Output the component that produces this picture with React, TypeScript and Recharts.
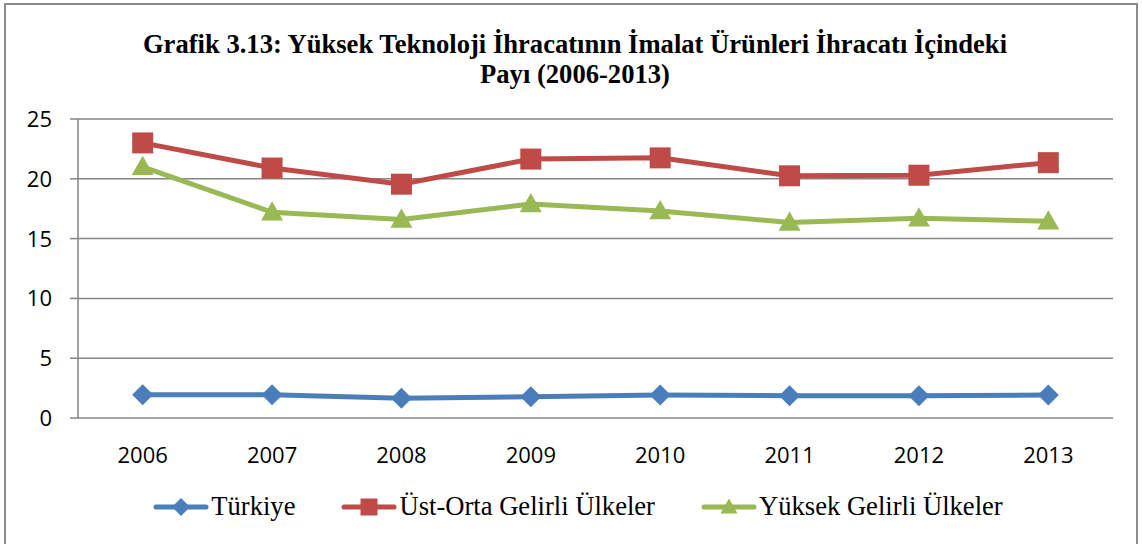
import React from 'react';
import { LineChart, Line, XAxis, YAxis, CartesianGrid } from 'recharts';

const years = ['2006', '2007', '2008', '2009', '2010', '2011', '2012', '2013'];
const turkiye = [1.95, 1.95, 1.65, 1.78, 1.92, 1.87, 1.87, 1.92];
const ustOrta = [23.0, 20.9, 19.55, 21.65, 21.75, 20.25, 20.3, 21.35];
const yuksek = [21.0, 17.2, 16.6, 17.9, 17.3, 16.35, 16.7, 16.45];
const yTicks = [0, 5, 10, 15, 20, 25];

const BLUE = '#4a7ebb';
const RED = '#be4b48';
const GREEN = '#98b954';
const GRID = '#868686';

const data = years.map((y, i) => ({
  idx: i,
  year: y,
  turkiye: turkiye[i],
  ustOrta: ustOrta[i],
  yuksek: yuksek[i],
}));

// tick marks sit between categories, labels under their centres
const bounds = years.map((_, i) => i - 0.5).concat([years.length - 0.5]);
const centers = years.map((_, i) => i);

const Diamond = ({ cx, cy, r = 10.5, color }: any) => (
  <path d={`M${cx},${cy - r} L${cx + r},${cy} L${cx},${cy + r} L${cx - r},${cy} Z`} fill={color} />
);
const Square = ({ cx, cy, s = 10.5, color }: any) => (
  <rect x={cx - s} y={cy - s} width={2 * s} height={2 * s} fill={color} />
);
const Triangle = ({ cx, cy, s = 11, color }: any) => (
  <path d={`M${cx},${cy - s} L${cx + s},${cy + s * 0.75} L${cx - s},${cy + s * 0.75} Z`} fill={color} />
);

const tickFont = "'Open Sans', sans-serif";

const YTick = ({ x, y, payload }: any) => (
  <text x={x} y={y} dy={8} textAnchor="end" fontFamily={tickFont} fontSize={22} fill="#000">
    {payload.value}
  </text>
);

const XTick = ({ x, y, payload }: any) => (
  <text x={x} y={y} dy={43} textAnchor="middle" fontFamily={tickFont} fontSize={22} fill="#000">
    {years[payload.value]}
  </text>
);

const legendItems = [
  { name: 'Türkiye', color: BLUE, Mark: Diamond },
  { name: 'Üst-Orta Gelirli Ülkeler', color: RED, Mark: Square },
  { name: 'Yüksek Gelirli Ülkeler', color: GREEN, Mark: Triangle },
];

const serif = "'Liberation Serif', 'Times New Roman', serif";

export default function App() {
  return (
    <div
      style={{
        position: 'absolute',
        left: 4,
        top: 3,
        width: 1134,
        height: 545,
        border: '2px solid #8c8c8c',
        boxSizing: 'border-box',
        background: '#fff',
      }}
    >
      <div
        style={{
          position: 'absolute',
          left: 4,
          width: 1130,
          top: 25,
          textAlign: 'center',
          fontFamily: serif,
          fontWeight: 'bold',
          fontSize: 26.6,
          lineHeight: '29.5px',
        }}
      >
        Grafik 3.13: Yüksek Teknoloji İhracatının İmalat Ürünleri İhracatı İçindeki
        <br />
        Payı (2006-2013)
      </div>

      <div style={{ position: 'absolute', left: 0, top: 0 }}>
        <LineChart
          width={1130}
          height={470}
          data={data}
          margin={{ top: 114, right: 23, left: 0, bottom: 17 }}
        >
          <CartesianGrid horizontal vertical={false} stroke={GRID} strokeWidth={1.5} />
          <XAxis
            xAxisId="g"
            dataKey="idx"
            type="number"
            domain={[-0.5, years.length - 0.5]}
            ticks={bounds}
            height={0}
            tick={false}
            tickSize={8}
            stroke={GRID}
            strokeWidth={1.5}
          />
          <XAxis
            xAxisId="l"
            dataKey="idx"
            type="number"
            domain={[-0.5, years.length - 0.5]}
            ticks={centers}
            height={40}
            axisLine={false}
            tickLine={false}
            tickSize={0}
            tick={<XTick />}
            interval={0}
          />
          <YAxis
            domain={[0, 25]}
            ticks={yTicks}
            width={72}
            tickSize={8}
            tickMargin={18}
            stroke={GRID}
            strokeWidth={1.5}
            tick={<YTick />}
            interval={0}
          />
          <Line
            xAxisId="g"
            dataKey="turkiye"
            stroke={BLUE}
            strokeWidth={5}
            isAnimationActive={false}
            dot={(p: any) => <Diamond key={p.index} cx={p.cx} cy={p.cy} color={BLUE} />}
          />
          <Line
            xAxisId="g"
            dataKey="ustOrta"
            stroke={RED}
            strokeWidth={5}
            isAnimationActive={false}
            dot={(p: any) => <Square key={p.index} cx={p.cx} cy={p.cy} color={RED} />}
          />
          <Line
            xAxisId="g"
            dataKey="yuksek"
            stroke={GREEN}
            strokeWidth={5}
            isAnimationActive={false}
            dot={(p: any) => <Triangle key={p.index} cx={p.cx} cy={p.cy} color={GREEN} />}
          />
        </LineChart>
      </div>

      <div
        style={{
          position: 'absolute',
          left: 7,
          width: 1130,
          top: 486,
          display: 'flex',
          justifyContent: 'center',
          alignItems: 'center',
          gap: 46,
          fontFamily: serif,
          fontSize: 26.6,
        }}
      >
        {legendItems.map(({ name, color, Mark }) => (
          <div key={name} style={{ display: 'flex', alignItems: 'center' }}>
            <svg width={56} height={26} style={{ marginRight: 2 }}>
              <line x1={3} y1={13} x2={53} y2={13} stroke={color} strokeWidth={5} strokeLinecap="round" />
              <Mark cx={28} cy={13} color={color} r={9} s={8.5} />
            </svg>
            <span>{name}</span>
          </div>
        ))}
      </div>
    </div>
  );
}
